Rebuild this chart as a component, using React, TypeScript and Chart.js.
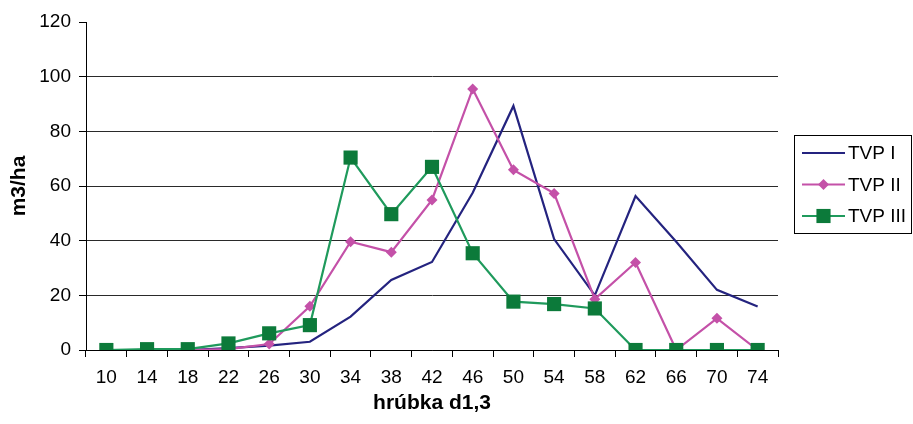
import React, { useEffect, useRef } from 'react';
import { Chart, registerables } from 'chart.js';

Chart.register(...registerables);

const categories = ['10', '14', '18', '22', '26', '30', '34', '38', '42', '46', '50', '54', '58', '62', '66', '70', '74'];
const tvp1 = [0, 0, 0, 0.7, 1.6, 3, 12.2, 25.6, 32.2, 57.5, 89.3, 40.6, 20, 56.3, 39.6, 22, 15.9];
const tvp2 = [0, 0, 0, 0.3, 2.2, 16, 39.6, 35.8, 54.9, 95.5, 65.9, 57.3, 18.6, 32, 0, 11.6, 0];
const tvp3 = [0, 0.3, 0.3, 2.4, 6.1, 9.1, 70.4, 49.7, 67, 35.4, 17.7, 16.8, 15.2, 0, 0, 0, 0];
const seriesLabels = ['TVP I', 'TVP II', 'TVP III'];
const yMin = 0;
const yMax = 120;
const yStep = 20;
const xTitle = 'hrúbka d1,3';
const yTitle = 'm3/ha';

const FONT = "'Liberation Sans', Arial, sans-serif";

const NAVY = '#24237f';
const MAGENTA = '#c451a8';
const GREEN_LINE = '#1f9a5c';
const GREEN_FILL = '#0c7a3a';

function drawMarker(ctx: CanvasRenderingContext2D, style: string, x: number, y: number, r: number, fill: string) {
  ctx.fillStyle = fill;
  ctx.beginPath();
  if (style === 'rectRot') {
    ctx.moveTo(x, y - r);
    ctx.lineTo(x + r, y);
    ctx.lineTo(x, y + r);
    ctx.lineTo(x - r, y);
    ctx.closePath();
  } else if (style === 'rect') {
    const s = r * Math.SQRT1_2;
    ctx.rect(x - s, y - s, 2 * s, 2 * s);
  }
  ctx.fill();
}

const boxLegend = {
  id: 'boxLegend',
  afterDraw(chart: any) {
    const ctx = chart.ctx as CanvasRenderingContext2D;
    const area = chart.chartArea;
    const left = area.right + 16;
    const top = 135;
    const width = 117;
    const height = 98;
    ctx.save();
    ctx.strokeStyle = '#000';
    ctx.lineWidth = 1;
    ctx.strokeRect(left + 0.5, top + 0.5, width, height);
    ctx.font = `19px ${FONT}`;
    ctx.textBaseline = 'middle';
    ctx.textAlign = 'left';
    chart.data.datasets.forEach((ds: any, i: number) => {
      const y = top + 18 + i * 31.5;
      const x0 = left + 8;
      const x1 = left + 51;
      ctx.strokeStyle = ds.borderColor;
      ctx.lineWidth = 2;
      ctx.beginPath();
      ctx.moveTo(x0, y);
      ctx.lineTo(x1, y);
      ctx.stroke();
      if (ds.pointStyle && ds.pointRadius > 0) {
        drawMarker(ctx, ds.pointStyle, (x0 + x1) / 2, y, ds.pointRadius, ds.pointBackgroundColor);
      }
      ctx.fillStyle = '#000';
      ctx.fillText(ds.label, x1 + 3, y + 1);
    });
    ctx.restore();
  },
};

export default function App() {
  const ref = useRef<HTMLCanvasElement | null>(null);

  useEffect(() => {
    document.body.style.margin = '0';
    const canvas = ref.current;
    if (!canvas) return;
    const chart = new Chart(canvas, {
      type: 'line',
      data: {
        labels: categories,
        datasets: [
          {
            label: seriesLabels[0],
            data: tvp1,
            borderColor: NAVY,
            backgroundColor: NAVY,
            borderWidth: 2.2,
            pointRadius: 0,
            pointStyle: false as any,
            tension: 0,
            order: 2,
          },
          {
            label: seriesLabels[1],
            data: tvp2,
            borderColor: MAGENTA,
            backgroundColor: MAGENTA,
            pointBackgroundColor: MAGENTA,
            pointBorderColor: MAGENTA,
            borderWidth: 2.2,
            pointStyle: 'rectRot',
            pointRadius: 5.5,
            pointBorderWidth: 0,
            tension: 0,
            order: 1,
          },
          {
            label: seriesLabels[2],
            data: tvp3,
            borderColor: GREEN_LINE,
            backgroundColor: GREEN_FILL,
            pointBackgroundColor: GREEN_FILL,
            pointBorderColor: GREEN_FILL,
            borderWidth: 2.2,
            pointStyle: 'rect',
            pointRadius: 10,
            pointBorderWidth: 0,
            tension: 0,
            order: 0,
          },
        ],
      },
      options: {
        animation: false,
        responsive: true,
        maintainAspectRatio: false,
        layout: { padding: { left: 0, top: 22, right: 135, bottom: 0 } },
        plugins: {
          legend: { display: false },
          tooltip: { enabled: false },
        },
        scales: {
          x: {
            type: 'category',
            offset: true,
            afterFit: (scale: any) => {
              scale.height = 74;
            },
            grid: {
              offset: true,
              drawOnChartArea: false,
              drawTicks: true,
              tickLength: 7,
              tickColor: '#000',
              color: '#000',
            },
            border: { display: true, color: '#000', width: 1 },
            ticks: {
              color: '#000',
              font: { family: FONT, size: 19 },
              padding: 9,
              maxRotation: 0,
              autoSkip: false,
            },
            title: {
              display: true,
              text: xTitle,
              color: '#000',
              font: { family: FONT, size: 21, weight: 'bold' },
              padding: { top: 0, bottom: 8 },
            },
          },
          y: {
            min: yMin,
            max: yMax,
            afterFit: (scale: any) => {
              scale.width = 86;
            },
            grid: {
              color: (c: any) => (c.tick && c.tick.value === yMax ? 'rgba(0,0,0,0)' : '#2a2a2a'),
              tickColor: '#000',
              tickLength: 7,
              lineWidth: 1,
            },
            border: { display: true, color: '#000', width: 1 },
            ticks: {
              stepSize: yStep,
              color: '#000',
              font: { family: FONT, size: 19 },
              padding: 8,
            },
            title: {
              display: true,
              text: yTitle,
              color: '#000',
              font: { family: FONT, size: 21, weight: 'bold' },
              padding: { top: 7, bottom: 0 },
            },
          },
        },
      },
      plugins: [boxLegend],
    });
    return () => chart.destroy();
  }, []);

  return (
    <div style={{ position: 'relative', width: 913, height: 424 }}>
      <canvas ref={ref} />
    </div>
  );
}
